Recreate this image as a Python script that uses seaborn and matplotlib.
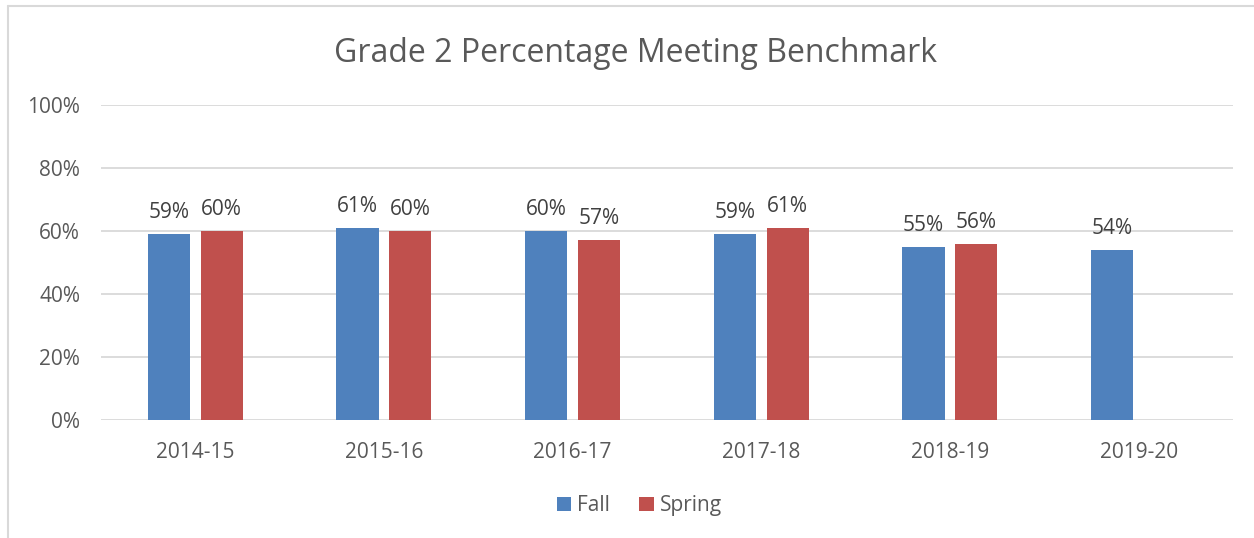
import seaborn as sns
import pandas as pd
import numpy as np
import matplotlib.pyplot as plt
from matplotlib.lines import Line2D
from matplotlib.ticker import PercentFormatter

years = ['2014-15', '2015-16', '2016-17', '2017-18', '2018-19', '2019-20']
fall = [59, 61, 60, 59, 55, 54]
spring = [60, 60, 57, 61, 56, np.nan]

df = pd.DataFrame({'year': years * 2,
                   'season': ['Fall'] * len(years) + ['Spring'] * len(years),
                   'pct': fall + spring})

sns.set_theme(style='white')
plt.rcParams['font.family'] = ['Open Sans', 'DejaVu Sans']
text_color = '#595959'

fig = plt.figure(figsize=(12.54, 5.38), dpi=100)
ax = fig.add_axes([0.0805, 0.2193, 0.9027, 0.5855])

sns.barplot(data=df, x='year', y='pct', hue='season', order=years,
            palette={'Fall': '#4F81BD', 'Spring': '#C0504D'},
            width=0.56, gap=0.2, saturation=1, linewidth=0, ax=ax, zorder=3)

for cont in ax.containers:
    labels = ['' if np.isnan(v) else f'{v:.0f}%' for v in cont.datavalues]
    ax.bar_label(cont, labels=labels, padding=8, fontsize=15, color='#404040')

ax.set_ylim(0, 100)
ax.set_xlim(-0.5, 5.5)
ax.set_yticks(range(0, 101, 20))
ax.yaxis.set_major_formatter(PercentFormatter(decimals=0))
ax.grid(axis='y', color='#D9D9D9', linewidth=1.3, zorder=0)
for s in ax.spines.values():
    s.set_visible(False)
ax.tick_params(axis='both', length=0, labelsize=15, colors=text_color)
ax.tick_params(axis='x', pad=16)
ax.tick_params(axis='y', pad=15)
ax.set_xlabel('')
ax.set_ylabel('')

fig.text(0.507, 0.901, 'Grade 2 Percentage Meeting Benchmark',
         ha='center', va='center', fontsize=23, color=text_color)

ax.legend(loc='center', bbox_to_anchor=(0.51, 0.06), bbox_transform=fig.transFigure,
          ncol=2, frameon=False, fontsize=15, handlelength=0.7, handleheight=0.7,
          handletextpad=0.3, columnspacing=1.4, labelcolor=text_color)

# chart border (top and left visible in the crop)
fig.add_artist(Line2D([0.0065, 1.0], [0.988, 0.988], color='#D9D9D9', lw=1.5,
                      transform=fig.transFigure))
fig.add_artist(Line2D([0.0065, 0.0065], [0.0, 0.988], color='#D9D9D9', lw=1.5,
                      transform=fig.transFigure))

fig.savefig('out.png', dpi=100)
